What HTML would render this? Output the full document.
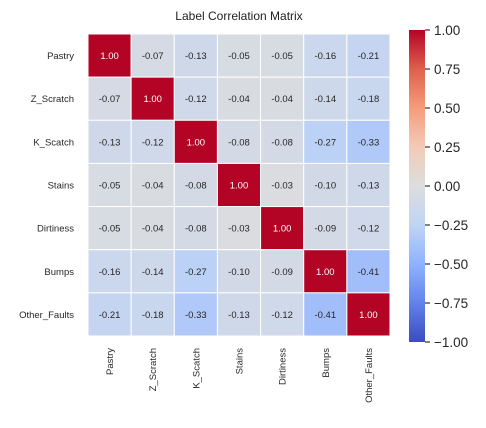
<!DOCTYPE html>
<html><head><meta charset="utf-8"><style>
body{margin:0;background:#fff;font-family:"Liberation Sans",sans-serif;}
</style></head><body>
<svg id="chart" width="486" height="423" xmlns="http://www.w3.org/2000/svg" font-family="Liberation Sans, sans-serif">
<text x="239" y="20" text-anchor="middle" font-size="12" fill="#222">Label Correlation Matrix</text>
<defs><linearGradient id="cg" x1="0" y1="1" x2="0" y2="0"></linearGradient></defs>
<g id="cells"></g><g id="ylabels"></g><g id="xlabels"></g><g id="cbar"></g>
</svg>
<script>
const labels=["Pastry","Z_Scratch","K_Scatch","Stains","Dirtiness","Bumps","Other_Faults"];
const matrix=[
[1.00,-0.07,-0.13,-0.05,-0.05,-0.16,-0.21],
[-0.07,1.00,-0.12,-0.04,-0.04,-0.14,-0.18],
[-0.13,-0.12,1.00,-0.08,-0.08,-0.27,-0.33],
[-0.05,-0.04,-0.08,1.00,-0.03,-0.10,-0.13],
[-0.05,-0.04,-0.08,-0.03,1.00,-0.09,-0.12],
[-0.16,-0.14,-0.27,-0.10,-0.09,1.00,-0.41],
[-0.21,-0.18,-0.33,-0.13,-0.12,-0.41,1.00]];
const cbarTicks=[1.00,0.75,0.50,0.25,0.00,-0.25,-0.50,-0.75,-1.00];
const NS="http://www.w3.org/2000/svg";
const stops=[[59,76,192],[98,130,234],[144,178,254],[192,212,245],[221,221,221],[242,203,183],[245,156,125],[222,96,77],[180,4,38]];
function cmap(v){let t=(v+1)/2*8;t=Math.max(0,Math.min(8,t));const i=Math.min(7,Math.floor(t)),f=t-i;const a=stops[i],b=stops[i+1];
return `rgb(${a.map((c,k)=>Math.round(c+(b[k]-c)*f)).join(",")})`;}
const x0=88,y0=34,cw=302/7;
const xs=i=>x0+i*cw, ys=i=>y0+i*cw;
function el(tag,attrs,parent,text){const e=document.createElementNS(NS,tag);for(const k in attrs)e.setAttribute(k,attrs[k]);if(text!==undefined)e.textContent=text;parent.appendChild(e);return e;}
const cells=document.getElementById("cells");
matrix.forEach((row,r)=>row.forEach((v,c)=>{
const rc=el("rect",{x:xs(c),y:ys(r),width:cw,height:cw,fill:cmap(v),stroke:"#fff","stroke-width":1},cells);


const t=el("text",{x:xs(c)+cw/2,y:ys(r)+cw/2+3.5,"text-anchor":"middle","font-size":"9.5",fill:Math.abs(v)>0.6?"#fff":"#262626"},cells,v.toFixed(2));


}));
const yl=document.getElementById("ylabels"),xl=document.getElementById("xlabels");
labels.forEach((l,i)=>{
const a=el("text",{x:x0-14,y:ys(i)+cw/2+3.5,"text-anchor":"end","font-size":"9.5",fill:"#262626"},yl,l);


const cx=xs(i)+cw/2+3.5;
const b=el("text",{x:cx,y:348,"text-anchor":"end","font-size":"9.5",fill:"#262626",transform:`rotate(-90 ${cx} 348)`},xl,l);


});
const g=document.getElementById("cg");
stops.forEach((s,i)=>el("stop",{offset:(i/8*100)+"%","stop-color":`rgb(${s.join(",")})`},g));
const cb=document.getElementById("cbar");
const cbTop=30,cbBot=342,cbx=409,cbw=16;
const cy=v=>cbBot-(v+1)/2*(cbBot-cbTop);
const bar=el("rect",{x:cbx,y:cbTop,width:cbw,height:cbBot-cbTop,fill:"url(#cg)"},cb);


cbarTicks.forEach(v=>{
el("line",{x1:cbx+cbw,x2:cbx+cbw+5,y1:cy(v),y2:cy(v),stroke:"#333","stroke-width":1.2},cb);
const t=el("text",{x:cbx+cbw+9,y:cy(v)+5,"font-size":"13.5",fill:"#262626"},cb,(v<0?"\u2212":"")+Math.abs(v).toFixed(2));


});
</script>
</body></html>
